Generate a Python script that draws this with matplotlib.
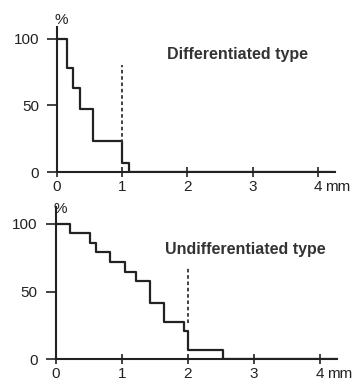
import numpy as np
import matplotlib
matplotlib.use("Agg")
from matplotlib import pyplot as plt

plt.rcParams['font.family'] = ['Liberation Sans', 'DejaVu Sans']

# 분화형 (Differentiated type) - step curve
diff_x = [0, 0.15, 0.24, 0.35, 0.55, 0.99, 1.11]
diff_y = [100, 78, 63, 47, 23, 7, 0]
diff_cut = 1.0
diff_dash = [22, 80]

# 미분화형 (Undifferentiated type)
undiff_x = [0, 0.21, 0.52, 0.61, 0.82, 1.05, 1.22, 1.42, 1.64, 1.94, 2.0, 2.53]
undiff_y = [100, 93, 86, 79, 72, 64.5, 58, 41.5, 27.5, 21, 6.5, 0]
undiff_cut = 2.0
undiff_dash = [27, 68]

xticks = [0, 1, 2, 3, 4]
xticklabels = ['0', '1', '2', '3', '4']
yticks = [0, 50, 100]

fig = plt.figure(figsize=(3.56, 3.84), dpi=100)

def panel(rect, xs, ys, cut, dash, title, title_xy, ytop, pct_y):
    ax = fig.add_axes(rect)
    # 마지막 단계는 0까지 내려감
    sx = list(xs) + [4.26]
    sy = list(ys) + [0]
    ax.step(sx, sy, where='post', color='#222222', lw=1.6)
    ax.plot([cut, cut], dash, color='#333333', lw=1.3, ls=(0, (2, 1.5)))
    ax.set_xlim(0, 4.26)
    ax.set_ylim(0, ytop)
    for s in ['top', 'right']:
        ax.spines[s].set_visible(False)
    for s in ['left', 'bottom']:
        ax.spines[s].set_linewidth(1.5)
        ax.spines[s].set_color('#222222')
    ax.set_xticks(xticks)
    ax.set_xticklabels(xticklabels)
    ax.set_yticks(yticks)
    ax.tick_params(axis='x', direction='inout', length=7, width=1.2, labelsize=11, pad=2, colors='#222222')
    ax.tick_params(axis='y', direction='out', length=7, width=1.2, labelsize=11, pad=6, colors='#222222')
    ax.annotate('mm', xy=(4, 0), xycoords='data', xytext=(5, -5.5), textcoords='offset points',
                fontsize=11, color='#222222', va='top', ha='left', annotation_clip=False)
    ax.text(0.06, pct_y, '%', fontsize=11, color='#222222', ha='center', va='center', clip_on=False)
    ax.text(title_xy[0], title_xy[1], title, fontsize=11.5, fontweight='bold', color='#333333', ha='center', va='center')
    return ax

panel([0.160, 0.552, 0.781, 0.378], diff_x, diff_y, diff_cut, diff_dash,
      'Differentiated type', (2.76, 88), 109, 114)
panel([0.157, 0.065, 0.789, 0.396], undiff_x, undiff_y, undiff_cut, undiff_dash,
      'Undifferentiated type', (2.88, 81), 112.6, 111)

fig.savefig('out.png', dpi=100)
